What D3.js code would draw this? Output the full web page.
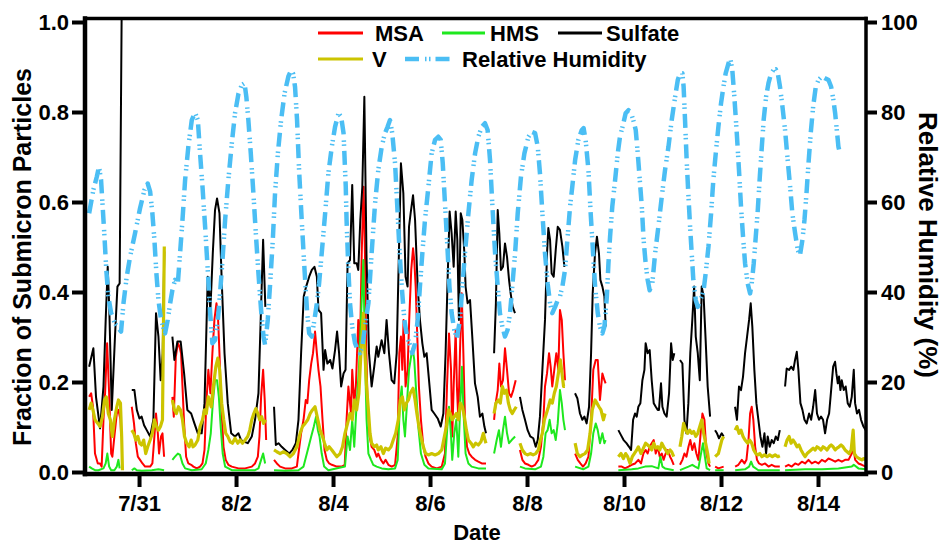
<!DOCTYPE html>
<html>
<head>
<meta charset="utf-8">
<script src="https://cdn.jsdelivr.net/npm/d3@7"></script>
<style>
  html, body { margin: 0; padding: 0; background: #fff; }
  svg { display: block; font-family: "Liberation Sans", Arial, sans-serif; font-weight: bold; }
</style>
</head>
<body>
<svg id="chart" width="948" height="544"></svg>
<script>
// Time is given in hours after 2015-07-30 00:00 (UTC); null marks a gap in the record.
const sulfate = [
[-0.7,0.234],[1.4,0.275],[2.7,0.167],[4.7,0.097],[6.4,0.19],[7.5,0.338],[8.5,0.456],[9.3,0.36],[10.5,0.138],[12.1,0.301],[13.3,0.412],[14.4,0.419],[15.4,1.02],[15.6,null],
[20.4,0.182],[21.7,0.182],[22.9,0.138],[24.2,0.119],[25.3,0.123],[26.5,0.104],[27.8,0.093],[29.5,0.079],[31.1,0.116],[32.4,0.353],[33.6,0.301],[34.7,0.204],[35.7,0.264],[36.5,0.49],[36.7,null],
[40.5,0.301],[41.5,0.249],[43.0,0.29],[44.6,0.29],[46.3,0.219],[47.9,0.138],[49.8,0.13],[51.4,0.108],[53.1,0.086],[55.0,0.086],[56.4,0.153],[58.0,0.434],[59.3,0.36],[60.5,0.486],[61.6,0.582],[62.6,0.608],[63.8,0.575],[64.9,0.427],[66.3,0.264],[67.9,0.153],[69.6,0.086],[71.5,0.079],[73.2,0.086],[74.5,0.071],[76.2,0.067],[77.8,0.064],[79.8,0.079],[81.4,0.116],[83.1,0.175],[84.2,0.338],[85.4,0.516],[86.5,0.367],[86.9,null],
[90.8,0.145],[91.7,0.06],[93.0,0.064],[94.6,0.056],[96.3,0.049],[98.3,0.041],[99.9,0.049],[101.6,0.064],[102.9,0.116],[104.2,0.264],[105.5,0.39],[106.7,0.412],[108.2,0.434],[109.5,0.449],[110.8,0.456],[112.0,0.434],[112.8,0.36],[114.1,0.353],[115.3,0.227],[116.1,0.271],[117.2,0.241],[118.6,0.249],[119.7,0.23],[121.0,0.271],[122.0,0.312],[123.0,0.264],[124.0,0.19],[125.2,0.219],[126.2,0.227],
[127.2,0.464],[128.4,0.471],[129.5,0.638],[130.5,0.464],[131.7,0.464],[132.5,0.449],[133.5,0.56],[134.5,0.634],[135.5,0.834],[136.6,0.471],[137.8,0.264],[139.1,0.19],[140.4,0.234],[141.6,0.279],[142.4,0.256],[144.05,0.293],[145.4,0.264],[146.5,0.338],[147.7,0.264],[149.0,0.204],[150.3,0.197],[151.5,0.264],[152.6,0.486],[153.6,0.686],[154.8,0.619],[155.9,0.434],[156.9,0.412],[157.6,0.545],[158.4,0.575],[159.6,0.615],[160.6,0.56],[161.9,0.412],[163.0,0.338],[164.2,0.286],[165.2,0.256],[166.3,0.264],[167.5,0.204],[168.8,0.138],[170.1,0.13],[171.8,0.119],[173.3,0.101],[174.6,0.13],[175.7,0.264],[176.7,0.427],[177.7,0.579],[178.7,0.53],[179.7,0.456],[180.7,0.579],[181.5,0.516],[182.3,0.338],[183.2,0.575],[184.0,0.56],[185.0,0.486],[185.6,0.412],[186.6,0.375],[187.8,0.382],[188.9,0.301],[190.25,0.197],[191.6,0.167],[192.7,0.123],[193.9,0.13],[194.9,0.101],[195.7,0.086],[196.0,null],
[199.7,0.264],[200.6,0.375],[201.5,0.582],[202.3,0.53],[203.1,0.449],[204.1,0.456],[205.1,0.508],[206.1,0.478],[207.1,0.427],[207.9,0.397],[208.9,0.367],[210.05,0.353],[210.3,null],
[212.5,0.167],[213.7,0.138],[215.0,0.116],[216.3,0.093],[217.6,0.079],[219.1,0.075],[220.3,0.056],[221.3,0.071],[222.4,0.123],[223.6,0.227],[224.9,0.338],[225.9,0.486],[226.55,0.542],[227.4,0.516],[228.2,0.441],[229.2,0.434],[230.2,0.493],[231.2,0.545],[232.3,0.538],[233.5,0.501],[234.5,0.456],[234.8,null],
[239.75,0.175],[240.9,0.164],[242.2,0.13],[243.4,0.116],[244.4,0.123],[245.5,0.108],[246.7,0.145],[247.7,0.264],[248.5,0.397],[249.65,0.486],[250.6,0.523],[251.6,0.486],[252.3,0.427],[253.3,0.412],[254.3,0.39],[254.9,0.323],[255.2,null],
[261.2,0.093],[262.5,0.082],[263.8,0.071],[265.2,0.064],[266.5,0.056],[267.5,0.049],[268.5,0.116],[269.45,0.13],[270.3,0.123],[271.1,0.145],[272.1,0.153],[273.1,0.204],[274.1,0.227],[274.7,0.286],[275.7,0.264],[276.7,0.271],[277.7,0.204],[278.7,0.153],[279.7,0.145],[280.7,0.138],[281.3,0.138],[282.3,0.197],[283.0,0.145],[284.0,0.13],[285.1,0.123],[286.3,0.175],[287.3,0.286],[288.1,0.249],[288.9,0.264],[289.2,null],
[291.7,0.249],[292.9,0.241],[293.9,0.116],[294.9,0.086],[295.85,0.153],[296.8,0.264],[297.8,0.338],[298.7,0.412],[299.5,0.301],[300.5,0.264],[301.5,0.204],[302.45,0.412],[303.4,0.39],[304.4,0.293],[305.4,0.19],[306.6,0.123],[306.9,null],
[309.05,0.093],[310.0,0.086],[311.0,0.075],[312.35,0.086],[313.3,0.079],[313.5,null],
[318.95,0.145],[319.9,0.116],[320.9,0.19],[321.9,0.182],[322.9,0.212],[323.9,0.264],[324.9,0.301],[325.9,0.338],[326.7,0.375],[327.5,0.323],[328.5,0.227],[329.5,0.153],[330.5,0.116],[331.5,0.079],[332.5,0.056],[333.5,0.086],[334.3,0.041],[335.1,0.079],[336.1,0.056],[337.1,0.071],[338.1,0.064],[339.1,0.079],[340.1,0.071],[341.1,0.093],[341.4,null],
[343.7,0.19],[344.5,0.23],[345.7,0.227],[346.7,0.234],[347.8,0.227],[348.65,0.249],[349.5,0.267],[350.3,0.227],[351.3,0.153],[352.3,0.138],[353.3,0.116],[354.4,0.108],[355.6,0.13],[356.6,0.116],[357.6,0.145],[358.6,0.182],[359.5,0.13],[360.5,0.116],[361.5,0.123],[362.5,0.116],[363.5,0.086],[364.5,0.116],[365.5,0.13],[366.5,0.182],[367.5,0.234],[368.45,0.245],[369.1,0.219],[369.8,0.197],[370.4,0.212],[371.1,0.182],[371.75,0.204],[372.75,0.182],[373.7,0.19],[374.7,0.153],[375.7,0.145],[376.7,0.167],[377.7,0.227],[378.35,0.153],[379.3,0.13],[380.3,0.138],[381.3,0.116],[382.5,0.101],[383.6,0.093]
];

const msa = [
[-0.7,0.167],[0.3,0.175],[1.2,0.145],[2.2,0.041],[3.6,0.019],[4.7,0.019],[5.5,0.012],[6.4,0.116],[7.2,0.175],[8.2,0.286],[9.2,0.175],[10.2,0.041],[10.8,0.034],[11.8,0.079],[13.0,0.13],[13.8,0.138],[14.8,0.116],[15.1,0.086],[15.4,null],
[20.4,0.145],[21.5,0.108],[22.4,0.064],[23.4,0.034],[24.5,0.027],[25.7,0.019],[27.0,0.012],[28.3,0.012],[29.5,0.012],[30.6,0.019],[31.6,0.079],[32.4,0.13],[33.3,0.086],[33.9,0.041],[34.9,0.079],[35.6,0.086],[36.4,0.034],[36.6,null],
[40.5,0.167],[41.2,0.123],[42.2,0.256],[43.2,0.286],[44.0,0.279],[44.8,0.264],[45.5,0.19],[46.3,0.108],[47.3,0.034],[48.4,0.019],[49.8,0.016],[50.9,0.012],[52.6,0.008],[54.2,0.012],[55.4,0.019],[56.4,0.049],[57.3,0.153],[58.3,0.227],[59.3,0.175],[60.3,0.264],[61.3,0.338],[62.3,0.375],[63.0,0.353],[63.8,0.264],[64.6,0.153],[65.8,0.056],[66.9,0.027],[68.2,0.016],[69.9,0.012],[73.2,0.008],[76.5,0.008],[79.8,0.012],[81.4,0.019],[82.8,0.034],[83.6,0.079],[84.4,0.167],[85.4,0.227],[86.2,0.16],[86.9,0.071],[87.0,null],
[90.8,0.027],[92.2,0.019],[93.8,0.012],[96.3,0.008],[99.6,0.008],[102.1,0.012],[102.9,0.041],[104.2,0.086],[105.4,0.116],[106.5,0.16],[107.3,0.153],[108.2,0.204],[109.2,0.241],[110.1,0.264],[111.1,0.312],[112.0,0.264],[112.8,0.227],[113.8,0.19],[114.8,0.116],[115.8,0.049],[116.9,0.027],[118.1,0.019],[119.4,0.016],[121.9,0.012],[124.3,0.012],[125.8,0.016],[126.7,0.116],[127.6,0.19],[128.9,0.13],[129.5,0.227],[130.5,0.153],[131.3,0.19],[132.5,0.338],[133.3,0.264],[134.2,0.486],[135.1,0.634],[135.8,0.486],[136.5,0.264],[137.1,0.153],[138.1,0.079],[139.1,0.056],[140.4,0.049],[141.6,0.034],[142.4,0.041],[143.7,0.027],[144.9,0.019],[146.0,0.027],[147.4,0.016],[149.0,0.012],[150.7,0.016],[152.0,0.079],[152.8,0.264],[153.6,0.301],[154.3,0.227],[154.9,0.338],[155.9,0.19],[156.9,0.227],[157.7,0.338],[158.7,0.449],[159.6,0.497],[160.2,0.471],[160.9,0.412],[161.7,0.301],[162.5,0.19],[163.5,0.116],[164.7,0.056],[165.8,0.034],[167.2,0.019],[168.8,0.012],[171.3,0.008],[173.8,0.012],[175.4,0.041],[176.4,0.19],[177.4,0.308],[178.4,0.227],[179.0,0.079],[179.7,0.19],[180.7,0.316],[181.3,0.19],[182.0,0.116],[182.8,0.264],[183.7,0.397],[184.5,0.264],[185.3,0.116],[186.3,0.056],[187.4,0.041],[188.6,0.034],[190.3,0.027],[191.9,0.023],[193.6,0.019],[195.7,0.019],[196.0,null],
[199.7,0.116],[200.5,0.153],[201.5,0.182],[202.3,0.241],[203.1,0.19],[204.1,0.204],[205.1,0.275],[206.1,0.227],[207.1,0.175],[208.1,0.167],[209.2,0.182],[210.4,0.204],[210.6,null],
[212.5,0.049],[213.7,0.027],[215.0,0.019],[216.7,0.016],[218.3,0.012],[220.0,0.016],[221.6,0.027],[222.9,0.056],[224.1,0.116],[224.9,0.19],[225.9,0.219],[226.9,0.264],[227.7,0.234],[228.5,0.19],[229.5,0.227],[230.5,0.264],[231.5,0.227],[232.3,0.36],[233.2,0.338],[234.0,0.264],[234.8,0.204],[235.0,null],
[239.8,0.041],[241.1,0.027],[242.4,0.019],[243.7,0.012],[245.0,0.019],[246.4,0.034],[247.7,0.116],[248.8,0.227],[250.0,0.249],[251.0,0.249],[252.1,0.16],[253.3,0.219],[254.3,0.204],[254.9,0.197],[255.2,null],
[261.2,0.012],[262.9,0.012],[264.5,0.008],[266.2,0.012],[267.8,0.016],[269.5,0.019],[271.1,0.027],[272.4,0.019],[273.6,0.041],[274.7,0.049],[275.7,0.041],[276.7,0.056],[277.7,0.064],[278.7,0.071],[279.7,0.041],[280.7,0.056],[281.7,0.034],[282.7,0.041],[283.6,0.027],[284.6,0.041],[285.6,0.049],[286.8,0.034],[287.6,0.027],[288.6,0.016],[289.0,null],
[291.7,0.016],[292.9,0.027],[293.9,0.041],[294.9,0.034],[295.9,0.056],[296.8,0.071],[297.8,0.049],[298.8,0.064],[299.8,0.041],[300.8,0.027],[301.8,0.079],[302.8,0.13],[303.8,0.116],[304.8,0.041],[305.8,0.019],[306.6,0.012],[306.9,null],
[309.1,0.012],[310.7,0.008],[313.3,0.012],[313.5,null],
[319.0,0.012],[320.6,0.016],[322.3,0.027],[323.6,0.019],[324.6,0.027],[325.6,0.071],[326.4,0.13],[327.2,0.145],[328.0,0.116],[328.9,0.056],[329.8,0.027],[330.8,0.019],[332.2,0.016],[333.8,0.019],[335.5,0.012],[337.1,0.016],[338.8,0.012],[341.1,0.012],[341.4,null],
[343.7,0.012],[345.4,0.016],[347.0,0.012],[348.7,0.019],[350.3,0.016],[352.0,0.023],[353.6,0.019],[355.3,0.027],[356.9,0.019],[358.6,0.023],[360.2,0.019],[361.9,0.027],[363.5,0.023],[365.2,0.03],[366.8,0.027],[368.5,0.023],[370.1,0.027],[371.8,0.023],[373.4,0.027],[375.1,0.027],[376.7,0.041],[377.7,0.049],[378.4,0.027],[380.0,0.019],[381.7,0.016],[383.6,0.012]
];

const hms = [
[-0.7,0.012],[0.6,0.008],[2.2,0.004],[3.9,0.004],[6.4,0.008],[7.5,0.019],[8.3,0.041],[9.2,0.012],[10.2,0.004],[11.8,0.004],[13.0,0.012],[13.8,0.027],[14.4,0.008],[14.6,null],
[20.4,0.004],[21.7,0.008],[22.9,0.004],[25.3,0.003],[30.3,0.004],[33.6,0.006],[36.4,0.004],[36.6,null],
[40.5,0.027],[41.8,0.034],[43.2,0.041],[44.3,0.038],[45.5,0.019],[46.8,0.008],[50.1,0.004],[55.0,0.006],[57.0,0.019],[58.3,0.049],[59.5,0.086],[60.5,0.153],[61.6,0.204],[62.6,0.204],[63.5,0.167],[64.4,0.101],[65.4,0.041],[66.6,0.012],[69.9,0.004],[76.5,0.004],[81.4,0.004],[83.1,0.008],[84.4,0.027],[85.4,0.041],[86.4,0.019],[86.6,null],
[90.8,0.004],[96.3,0.003],[102.9,0.004],[105.4,0.012],[107.5,0.049],[109.2,0.079],[110.5,0.101],[111.6,0.123],[112.5,0.093],[113.3,0.079],[114.4,0.041],[115.6,0.012],[117.7,0.004],[125.9,0.012],[127.2,0.079],[128.4,0.049],[129.5,0.116],[130.5,0.056],[131.7,0.153],[132.8,0.227],[133.8,0.338],[135.0,0.471],[135.8,0.264],[136.6,0.116],[137.5,0.041],[138.8,0.027],[139.9,0.016],[141.6,0.012],[144.1,0.008],[147.4,0.006],[150.7,0.008],[152.0,0.027],[153.1,0.153],[154.0,0.19],[154.8,0.116],[155.6,0.079],[156.6,0.153],[157.6,0.227],[158.6,0.256],[159.4,0.275],[160.2,0.249],[161.0,0.19],[162.2,0.101],[163.5,0.041],[165.2,0.016],[167.2,0.008],[173.8,0.006],[175.4,0.019],[176.6,0.101],[177.4,0.145],[178.4,0.079],[179.0,0.027],[180.0,0.086],[181.0,0.116],[182.0,0.034],[183.0,0.153],[183.8,0.234],[184.6,0.13],[185.6,0.041],[187.0,0.019],[188.6,0.012],[191.9,0.008],[195.7,0.008],[196.0,null],
[199.7,0.041],[201.0,0.071],[202.1,0.093],[203.1,0.056],[204.1,0.093],[205.1,0.123],[206.1,0.086],[207.1,0.064],[208.4,0.071],[210.1,0.079],[210.3,null],
[212.5,0.012],[215.0,0.008],[220.0,0.006],[222.9,0.012],[224.1,0.034],[225.2,0.086],[226.2,0.093],[227.2,0.116],[228.2,0.086],[229.2,0.093],[230.2,0.071],[231.2,0.108],[232.3,0.182],[233.2,0.153],[234.0,0.116],[234.8,0.093],[235.0,null],
[239.8,0.012],[243.8,0.006],[246.4,0.012],[247.7,0.041],[248.8,0.086],[250.0,0.108],[251.0,0.093],[252.1,0.064],[253.3,0.086],[254.3,0.064],[254.9,0.071],[255.2,null],
[261.2,0.004],[267.8,0.006],[271.1,0.008],[274.4,0.012],[277.7,0.013],[281.0,0.008],[282.0,0.034],[283.0,0.012],[284.3,0.008],[288.6,0.004],[289.0,null],
[291.7,0.004],[295.9,0.012],[297.8,0.016],[299.2,0.012],[300.8,0.008],[302.1,0.041],[303.1,0.064],[303.8,0.041],[304.9,0.008],[306.6,0.004],[306.9,null],
[309.1,0.004],[313.3,0.004],[313.5,null],
[319.0,0.004],[323.9,0.006],[325.9,0.012],[326.9,0.023],[327.9,0.012],[330.5,0.004],[341.1,0.004],[341.4,null],
[343.7,0.004],[353.6,0.006],[362.0,0.006],[370.1,0.008],[376.7,0.012],[377.7,0.016],[380.0,0.008],[383.6,0.006]
];

const vanadium = [
[-0.7,0.138],[0.3,0.153],[1.2,0.138],[2.2,0.116],[3.6,0.108],[4.7,0.101],[5.9,0.123],[6.9,0.16],[7.8,0.167],[8.8,0.13],[9.8,0.116],[10.8,0.079],[11.8,0.116],[13.0,0.145],[13.8,0.16],[14.8,0.153],[15.4,0.079],[15.8,0.004],[15.9,null],
[20.4,0.093],[21.4,0.086],[22.4,0.071],[23.4,0.079],[24.3,0.064],[25.3,0.06],[26.3,0.071],[27.3,0.041],[28.3,0.056],[29.5,0.071],[30.6,0.086],[31.6,0.116],[32.6,0.101],[33.6,0.093],[34.6,0.101],[35.6,0.116],[36.5,0.501],[36.7,null],
[40.5,0.16],[41.5,0.138],[42.5,0.13],[43.5,0.145],[44.5,0.138],[45.5,0.116],[46.5,0.079],[47.6,0.064],[48.8,0.056],[49.8,0.071],[50.7,0.056],[51.7,0.06],[53.1,0.071],[54.2,0.101],[55.4,0.116],[56.4,0.138],[57.3,0.13],[58.3,0.167],[59.7,0.145],[60.8,0.19],[62.0,0.234],[63.0,0.253],[63.9,0.227],[64.9,0.153],[65.9,0.116],[66.9,0.086],[67.9,0.079],[69.1,0.067],[70.2,0.064],[71.5,0.075],[72.9,0.064],[74.0,0.071],[75.2,0.064],[76.5,0.071],[77.8,0.079],[78.8,0.093],[79.8,0.116],[80.8,0.13],[81.8,0.141],[82.8,0.13],[83.7,0.116],[84.7,0.123],[85.6,0.108],[86.6,0.116],[86.8,null],
[90.8,0.049],[92.2,0.045],[93.8,0.041],[95.5,0.045],[97.1,0.041],[98.8,0.034],[100.4,0.041],[102.1,0.056],[103.7,0.086],[104.9,0.101],[106.2,0.108],[107.5,0.116],[108.7,0.13],[109.8,0.138],[111.1,0.145],[112.5,0.116],[113.6,0.093],[114.8,0.079],[115.8,0.064],[116.9,0.049],[118.1,0.056],[119.4,0.049],[120.7,0.041],[121.9,0.034],[123.5,0.041],[124.7,0.056],[125.9,0.086],[127.2,0.108],[128.4,0.13],[129.5,0.116],[130.5,0.16],[131.7,0.138],[132.8,0.175],[133.8,0.264],[135.0,0.353],[135.8,0.264],[136.6,0.19],[137.5,0.138],[138.3,0.086],[139.1,0.064],[140.4,0.056],[141.6,0.06],[142.4,0.049],[143.7,0.056],[144.9,0.041],[146.0,0.053],[147.4,0.049],[148.7,0.056],[149.8,0.071],[151.0,0.086],[152.3,0.116],[153.3,0.16],[154.3,0.167],[155.3,0.138],[156.3,0.153],[157.3,0.16],[158.2,0.175],[159.6,0.186],[160.6,0.16],[161.5,0.13],[162.5,0.101],[163.5,0.079],[164.7,0.056],[165.8,0.041],[167.2,0.038],[168.8,0.041],[170.5,0.038],[172.1,0.041],[173.8,0.049],[175.1,0.079],[176.1,0.101],[177.1,0.138],[178.0,0.13],[179.0,0.116],[180.0,0.123],[181.0,0.13],[182.0,0.116],[183.0,0.153],[184.0,0.145],[185.0,0.123],[186.0,0.093],[187.0,0.071],[188.3,0.064],[189.4,0.056],[190.6,0.064],[191.9,0.06],[193.2,0.067],[194.4,0.086],[195.2,0.071],[195.7,0.064],[196.0,null],
[199.7,0.13],[200.6,0.153],[201.8,0.16],[202.8,0.153],[203.8,0.19],[204.8,0.175],[205.8,0.182],[206.8,0.153],[207.7,0.138],[208.7,0.13],[209.7,0.138],[210.7,0.145],[210.9,null],
[212.5,0.064],[213.7,0.049],[215.0,0.041],[216.3,0.038],[217.6,0.041],[219.0,0.038],[220.3,0.041],[221.6,0.049],[222.6,0.071],[223.6,0.086],[224.6,0.116],[225.6,0.13],[226.6,0.145],[227.5,0.16],[228.5,0.153],[229.5,0.175],[230.5,0.19],[231.5,0.219],[232.5,0.249],[233.5,0.212],[234.1,0.19],[234.8,0.19],[235.0,null],
[239.8,0.064],[240.9,0.041],[242.2,0.034],[243.4,0.038],[244.7,0.041],[246.0,0.049],[247.2,0.086],[248.3,0.138],[249.7,0.16],[250.6,0.153],[251.6,0.145],[252.6,0.138],[253.8,0.116],[254.6,0.13],[254.9,null],
[261.2,0.034],[262.5,0.041],[263.7,0.03],[264.8,0.041],[265.8,0.034],[267.0,0.019],[268.1,0.034],[269.1,0.041],[270.3,0.049],[271.1,0.056],[272.4,0.041],[273.6,0.053],[274.7,0.064],[275.7,0.06],[276.7,0.056],[277.7,0.049],[278.7,0.064],[279.7,0.053],[280.7,0.056],[281.7,0.049],[282.7,0.064],[283.6,0.056],[284.6,0.049],[285.6,0.041],[286.8,0.049],[287.6,0.045],[288.6,0.034],[288.9,null],
[291.7,0.056],[292.6,0.079],[293.5,0.108],[294.5,0.093],[295.5,0.086],[296.5,0.093],[297.5,0.086],[298.5,0.09],[299.5,0.079],[300.5,0.086],[301.5,0.101],[302.5,0.116],[303.4,0.086],[304.4,0.064],[305.4,0.041],[306.1,0.019],[306.4,null],
[309.1,0.034],[310.7,0.041],[312.4,0.071],[313.3,0.079],[313.5,null],
[319.0,0.093],[319.9,0.101],[320.9,0.086],[321.9,0.093],[322.9,0.079],[323.9,0.071],[325.2,0.064],[326.2,0.071],[327.2,0.064],[328.2,0.049],[329.2,0.041],[330.2,0.038],[331.2,0.041],[332.2,0.034],[333.5,0.038],[334.8,0.034],[336.1,0.038],[337.4,0.034],[338.8,0.038],[340.1,0.034],[341.1,0.036],[341.4,null],
[343.7,0.056],[344.7,0.071],[345.7,0.079],[346.7,0.064],[347.7,0.071],[348.7,0.064],[349.6,0.056],[350.6,0.06],[351.6,0.049],[352.6,0.041],[353.6,0.034],[354.6,0.041],[355.6,0.045],[356.6,0.049],[357.6,0.053],[358.6,0.049],[359.5,0.056],[360.5,0.053],[361.5,0.049],[362.5,0.056],[363.5,0.053],[364.5,0.049],[365.5,0.056],[366.5,0.06],[367.5,0.056],[368.5,0.049],[369.4,0.053],[370.4,0.056],[371.4,0.06],[372.4,0.056],[373.4,0.049],[374.4,0.045],[375.4,0.041],[376.4,0.049],[377.4,0.093],[378.0,0.041],[379.0,0.034],[380.3,0.03],[381.7,0.027],[382.6,0.03],[383.6,0.028]
];

// Relative humidity, percent
const rh = [
[-0.7,57.5],[1.4,62.7],[3.1,65.6],[4.2,67.9],[5.2,64.9],[5.9,59.7],[6.9,52.3],[7.8,44.9],[8.8,39.0],[10.2,35.3],[12.1,33.0],[13.8,31.9],[15.1,31.2],[16.3,37.5],[17.9,43.4],[19.6,47.9],[22.0,53.0],[24.5,58.6],[26.7,62.7],[28.3,64.1],[29.5,62.3],[30.6,57.5],[31.6,51.6],[32.6,44.1],[33.6,38.2],[34.9,33.8],[36.9,30.8],[38.2,33.8],[39.4,37.5],[40.5,40.4],[41.8,42.7],[43.2,41.9],[44.3,48.6],[45.5,56.0],[46.8,64.9],[48.4,72.3],[50.1,78.2],[51.7,79.9],[53.1,78.2],[54.2,70.8],[55.4,63.4],[56.7,54.5],[58.0,44.9],[59.2,35.3],[60.3,28.6],[61.6,29.3],[63.0,33.8],[64.1,39.7],[65.3,47.1],[66.6,56.0],[68.2,64.9],[69.9,73.0],[71.5,79.7],[73.2,84.1],[74.8,86.0],[76.2,86.4],[77.1,83.4],[78.1,78.2],[79.3,70.8],[80.6,61.9],[81.8,53.0],[83.1,44.1],[84.4,36.0],[85.6,30.1],[86.4,28.2],[87.7,33.8],[89.0,42.7],[90.2,51.6],[91.3,61.9],[92.7,70.8],[94.3,78.2],[96.0,84.1],[97.9,87.9],[99.3,89.3],[100.2,88.6],[101.2,85.6],[102.2,78.2],[103.2,67.1],[104.5,56.0],[105.9,44.9],[107.2,35.3],[108.2,30.8],[109.5,30.1],[110.8,33.8],[112.0,37.5],[113.1,41.9],[114.4,48.6],[116.1,57.5],[117.7,66.4],[119.4,72.3],[121.0,76.7],[122.7,79.7],[124.0,79.0],[125.2,75.3],[126.3,63.4],[126.7,56.0],
[127.6,44.9],[128.4,37.5],[129.5,32.3],[130.9,28.6],[132.2,27.1],[133.3,26.4],[134.5,27.9],[135.8,32.3],[137.5,37.5],[139.1,48.6],[140.8,59.7],[142.4,67.1],[144.1,72.3],[145.7,75.3],[147.0,76.7],[148.2,78.2],[149.3,75.3],[150.7,68.6],[151.8,59.0],[152.8,50.1],[154.0,41.2],[155.3,33.8],[156.6,30.1],[158.1,28.2],[159.2,26.4],[160.6,28.6],[161.9,33.8],[163.0,41.2],[164.2,48.6],[165.5,56.0],[167.2,63.4],[168.8,70.8],[170.5,73.8],[172.1,74.5],[173.3,73.8],[174.3,68.6],[175.4,59.7],[176.6,50.1],[177.6,41.2],[178.7,35.3],[180.0,31.6],[181.3,29.7],[182.8,33.8],[184.0,41.2],[185.3,48.6],[187.0,57.5],[188.6,64.9],[190.3,70.8],[191.9,74.5],[193.6,76.7],[195.2,77.5],[196.5,76.0],[197.7,69.3],[198.8,59.7],[200.2,48.6],[201.5,41.2],[202.6,35.3],[203.8,32.3],[205.1,30.1],[206.4,31.6],[207.6,35.3],[208.7,41.2],[210.1,48.6],[211.4,57.5],[213.0,65.6],[214.7,70.8],[216.7,74.5],[218.3,75.6],[220.0,75.3],[221.3,72.3],[222.4,66.4],[223.6,57.5],[224.9,48.6],[226.2,41.9],[227.4,37.5],[228.5,35.3],[229.9,36.7],[231.2,38.2],[232.3,39.0],[233.5,41.2],[234.8,44.9],[236.1,52.3],[237.3,59.0],[238.4,63.4],[239.8,69.3],[241.4,73.8],[243.1,76.0],[244.0,76.4],[245.0,73.8],[246.4,67.1],[247.5,57.5],[248.7,48.6],[249.7,41.2],[251.0,35.3],[252.1,32.3],[253.3,30.8],[254.3,32.3],[255.5,39.0],
[256.3,46.4],[257.1,52.3],[258.2,59.0],[259.6,64.9],[260.9,70.8],[262.0,74.5],[263.7,77.5],[264.8,79.7],[266.2,80.4],[267.5,79.7],[268.6,78.2],[269.8,76.0],[270.8,70.8],[271.8,64.9],[272.8,59.0],[273.7,51.6],[274.7,46.4],[275.7,42.7],[276.7,40.4],[278.0,41.9],[279.4,48.6],[281.0,54.5],[282.7,61.2],[284.3,67.1],[286.0,72.3],[287.6,78.2],[289.3,83.4],[290.6,87.1],[291.7,88.6],[292.9,88.6],[293.5,85.6],[294.2,78.2],[295.0,69.3],[295.9,61.2],[296.7,54.5],[297.5,48.6],[298.3,42.7],[299.5,38.2],[300.5,36.7],[301.6,38.2],[302.5,39.0],[303.4,40.4],[304.4,44.1],[305.8,50.1],[307.1,57.5],[308.2,64.9],[309.4,70.8],[310.7,76.7],[312.0,81.9],[313.2,85.6],[314.3,88.6],[315.7,90.8],[316.6,91.9],[317.6,89.3],[318.6,83.4],[319.8,75.3],[320.9,67.1],[321.9,59.0],[322.9,52.3],[323.9,46.4],[325.2,41.9],[326.4,39.7],[327.2,41.9],[328.2,46.4],[329.2,52.3],[330.2,58.2],[331.2,65.6],[332.2,72.3],[333.1,78.2],[334.3,83.4],[335.5,86.4],[336.8,88.6],[337.9,89.3],[339.1,89.5],[340.1,88.6],[341.2,85.6],[342.4,81.2],[343.7,76.0],[345.0,69.3],[346.2,63.4],[347.3,57.5],[348.7,53.0],[350.0,49.3],[351.1,48.2],[352.3,51.6],[353.3,56.0],[354.3,61.9],[355.3,68.6],[356.4,75.3],[357.6,81.2],[358.9,85.6],[360.2,87.1],[361.9,87.9],[363.5,87.5],[365.2,87.1],[366.5,85.6],[367.6,82.7],[368.5,79.7],[369.3,76.0],[370.1,72.3],[371.1,70.4]
];

const xTickDates = ["2015-07-31","2015-08-02","2015-08-04","2015-08-06","2015-08-08","2015-08-10","2015-08-12","2015-08-14"];
const leftTicks = [0, 0.2, 0.4, 0.6, 0.8, 1.0];
const rightTicks = [0, 20, 40, 60, 80, 100];
const legendNames = ["MSA", "HMS", "Sulfate", "V", "Relative Humidity"];

// ---- layout ----
const svg = d3.select("#chart");
const plot = { left: 85, right: 866, top: 18.5, bottom: 474 };
const t0 = Date.UTC(2015, 6, 30, 0);
const toDate = h => new Date(t0 + h * 3600000);

const x = d3.scaleUtc()
  .domain([new Date(Date.UTC(2015, 6, 29, 22)), new Date(Date.UTC(2015, 7, 15, 0))])
  .range([86.5, 866.5]);
const yL = d3.scaleLinear().domain([0, 1]).range([472, 22]);
const yR = d3.scaleLinear().domain([0, 100]).range([472, 22]);

svg.append("defs").append("clipPath").attr("id", "plotClip")
  .append("rect")
  .attr("x", plot.left).attr("y", plot.top)
  .attr("width", plot.right - plot.left).attr("height", plot.bottom - plot.top);

const series = [
  { name: "MSA",     data: msa,      y: yL, color: "#FF0000", width: 2 },
  { name: "HMS",     data: hms,      y: yL, color: "#1EE81E", width: 2 },
  { name: "Sulfate", data: sulfate,  y: yL, color: "#000000", width: 2 },
  { name: "V",       data: vanadium, y: yL, color: "#CCC400", width: 3.2 },
  { name: "Relative Humidity", data: rh, y: yR, color: "#4BBEF4", width: 4.5, dash: "14,6,1.5,2.5,1.5,5" }
];

const g = svg.append("g").attr("clip-path", "url(#plotClip)");
series.forEach(s => {
  const line = d3.line()
    .defined(d => d[1] != null)
    .x(d => x(toDate(d[0])))
    .y(d => s.y(d[1]));
  g.append("path")
    .datum(s.data)
    .attr("d", line)
    .attr("fill", "none")
    .attr("stroke", s.color)
    .attr("stroke-width", s.width)
    .attr("stroke-linejoin", "round")
    .attr("stroke-dasharray", s.dash || null);
});

// ---- frame ----
const frame = svg.append("g").attr("stroke", "#000").attr("stroke-linecap", "square");
frame.append("line").attr("x1", plot.left).attr("x2", plot.left).attr("y1", plot.top).attr("y2", plot.bottom).attr("stroke-width", 4.5);
frame.append("line").attr("x1", plot.left).attr("x2", plot.right).attr("y1", plot.bottom).attr("y2", plot.bottom).attr("stroke-width", 4.5);
frame.append("line").attr("x1", plot.left).attr("x2", plot.right).attr("y1", plot.top).attr("y2", plot.top).attr("stroke-width", 3.5);
frame.append("line").attr("x1", plot.right).attr("x2", plot.right).attr("y1", plot.top).attr("y2", plot.bottom).attr("stroke-width", 3.5);

// ---- axes ----
function styleAxis(sel, w) {
  sel.select(".domain").remove();
  sel.selectAll(".tick line").attr("stroke", "#000").attr("stroke-width", w);
  sel.selectAll(".tick text")
    .attr("fill", "#000")
    .style("font-family", "'Liberation Sans', Arial, sans-serif")
    .style("font-weight", "bold")
    .style("font-size", "22px");
}

svg.append("g")
  .attr("transform", `translate(${plot.left},0)`)
  .call(d3.axisLeft(yL).tickValues(leftTicks).tickFormat(d3.format(".1f")).tickSize(13).tickPadding(3))
  .call(s => styleAxis(s, 4));

svg.append("g")
  .attr("transform", `translate(${plot.right},0)`)
  .call(d3.axisRight(yR).tickValues(rightTicks).tickFormat(d3.format("d")).tickSize(11).tickPadding(4))
  .call(s => styleAxis(s, 4));

svg.append("g")
  .attr("transform", `translate(0,${plot.bottom})`)
  .call(d3.axisBottom(x)
    .tickValues(xTickDates.map(s => new Date(s + "T00:00:00Z")))
    .tickFormat(d3.utcFormat("%-m/%-d"))
    .tickSize(13).tickPadding(8))
  .call(s => styleAxis(s, 4));

// ---- axis titles ----
svg.append("text")
  .attr("transform", "translate(31,257) rotate(-90)")
  .attr("text-anchor", "middle")
  .style("font-size", "25px")
  .text("Fraction of Submicron Particles");

svg.append("text")
  .attr("transform", "translate(919,245) rotate(90)")
  .attr("text-anchor", "middle")
  .style("font-size", "26px")
  .text("Relative Humidity (%)");

svg.append("text")
  .attr("x", 477).attr("y", 540)
  .attr("text-anchor", "middle")
  .style("font-size", "22px")
  .text("Date");

// ---- legend ----
const legendPos = [
  { x1: 318, x2: 363, y: 33, tx: 375 },
  { x1: 442, x2: 485, y: 33, tx: 490 },
  { x1: 558, x2: 602, y: 33, tx: 606 },
  { x1: 318, x2: 363, y: 59, tx: 372 },
  { x1: 405, x2: 450, y: 59, tx: 462 }
];
const legend = svg.append("g");
legendNames.forEach((name, i) => {
  const s = series.find(d => d.name === name);
  const p = legendPos[i];
  legend.append("line")
    .attr("x1", p.x1).attr("x2", p.x2).attr("y1", p.y).attr("y2", p.y)
    .attr("stroke", s.color)
    .attr("stroke-width", s.dash ? 4.5 : 3)
    .attr("stroke-dasharray", s.dash || null);
  legend.append("text")
    .attr("x", p.tx).attr("y", p.y + 8)
    .style("font-size", "22px")
    .text(name);
});
</script>
</body>
</html>
